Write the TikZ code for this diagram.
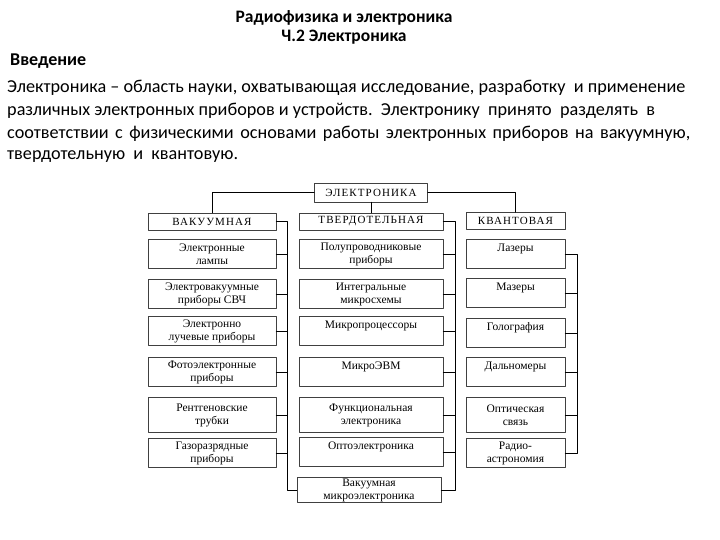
\documentclass[tikz,border=0pt]{standalone}
\usepackage{fontspec}
\setmainfont{Liberation Serif}
\newfontfamily\calib{Carlito}
\begin{document}
\begin{tikzpicture}[x=1pt,y=-1pt,line cap=round,line join=round,
	box/.style={draw=black!75,line width=0.7pt,minimum width=128pt,minimum height=29pt,
		inner sep=1pt,align=center,font=\fontsize{11.5}{13}\selectfont,anchor=center},
	tbox/.style={box,minimum width=144pt},
	qbox/.style={box,minimum width=99pt},
	head/.style={box,minimum height=17pt,font=\fontsize{11}{12}\selectfont\addfontfeature{LetterSpace=10}},
	wire/.style={line width=0.8pt,black}]
	\useasboundingbox (0,0) rectangle (720,540);
	% header text
	\node[font=\calib\bfseries\fontsize{17.5}{20}\selectfont] (ttl) at (344,18) {Радиофизика и электроника};
	\node[font=\calib\bfseries\fontsize{17.5}{20}\selectfont] (sub) at (344,37) {Ч.2 Электроника};
	\node[font=\calib\bfseries\fontsize{18}{20}\selectfont,anchor=west,inner sep=0pt] (intro) at (10,61) {Введение};
	\begin{scope}[every node/.style={font=\calib\fontsize{18.2}{20}\selectfont,anchor=west,inner sep=0pt}]
		\node (p1) at (7,88) {Электроника – область науки, охватывающая исследование, разработку\ \ и применение};
		\node (p2) at (7,111) {различных электронных приборов и устройств.\ \ Электронику\ \ принято\ \ разделять\ \ в};
		\node (p3) at (7,134) {\makebox[683pt][s]{соответствии с физическими основами работы электронных приборов на вакуумную,}};
		\node (p4) at (7,157) {твердотельную\ \ и\ \ квантовую.};
	\end{scope}
	% top level
	\node[head,minimum width=113pt,minimum height=19pt] (el) at (371,192.5) {ЭЛЕКТРОНИКА};
	\node[head] (vak) at (212,221.5) {ВАКУУМНАЯ};
	\node[head,minimum width=144pt] (tverd) at (371,221.5) {ТВЕРДОТЕЛЬНАЯ};
	\node[head,minimum width=99pt] (kvant) at (515.5,221) {КВАНТОВАЯ};
	% vacuum
	\node[box] (v1) at (212,254) {Электронные\\лампы};
	\node[box] (v2) at (212,294) {Электровакуумные\\приборы СВЧ};
	\node[box] (v3) at (212,331) {Электронно\\лучевые приборы};
	\node[box] (v4) at (212,372) {Фотоэлектронные\\приборы};
	\node[box,minimum height=35pt] (v5) at (212,415) {Рентгеновские\\трубки};
	\node[box] (v6) at (212,453) {Газоразрядные\\приборы};
	% solid state
	\node[tbox] (t1) at (371,254) {Полупроводниковые\\приборы};
	\node[tbox] (t2) at (371,294) {Интегральные\\микросхемы};
	\node[tbox] (t3) at (371,331) {Микропроцессоры\\\mbox{}};
	\node[tbox] (t4) at (371,372) {МикроЭВМ\\\mbox{}};
	\node[tbox,minimum height=35pt] (t5) at (371,415) {Функциональная\\электроника};
	\node[tbox] (t6) at (371,452) {Оптоэлектроника\\\mbox{}};
	\node[tbox,minimum height=25pt] (t7) at (369,490) {Вакуумная\\микроэлектроника};
	% quantum
	\node[qbox] (q1) at (515.5,254) {Лазеры\\\mbox{}};
	\node[qbox] (q2) at (515.5,293) {Мазеры\\\mbox{}};
	\node[qbox] (q3) at (515.5,333) {Голография\\\mbox{}};
	\node[qbox] (q4) at (515.5,372) {Дальномеры\\\mbox{}};
	\node[qbox,minimum height=35pt] (q5) at (515.5,415) {Оптическая\\связь};
	\node[qbox] (q6) at (515.5,453) {Радио-\\астрономия};
	% connectors
	\coordinate (vbot) at (287,490);
	\coordinate (tbot) at (455,490);
	\coordinate (qbot) at (577,453);
	\draw[wire] (el.west) -| (vak.north);
	\draw[wire] (el.south) -- (tverd.north);
	\draw[wire] (el.east) -| (kvant.north);
	\draw[wire] (vak.east) -| (vbot) -- (t7.west);
	\draw[wire] (tverd.east) -| (tbot) -- (t7.east);
	\draw[wire] (q1.east) -| (qbot) -- (q6.east);
	\foreach \i in {1,...,6} {
		\draw[wire] (v\i.east) -- (v\i.east -| vbot);
		\draw[wire] (t\i.east) -- (t\i.east -| tbot);
	}
	\foreach \i in {2,...,5}
		\draw[wire] (q\i.east) -- (q\i.east -| qbot);
\end{tikzpicture}
\end{document}
